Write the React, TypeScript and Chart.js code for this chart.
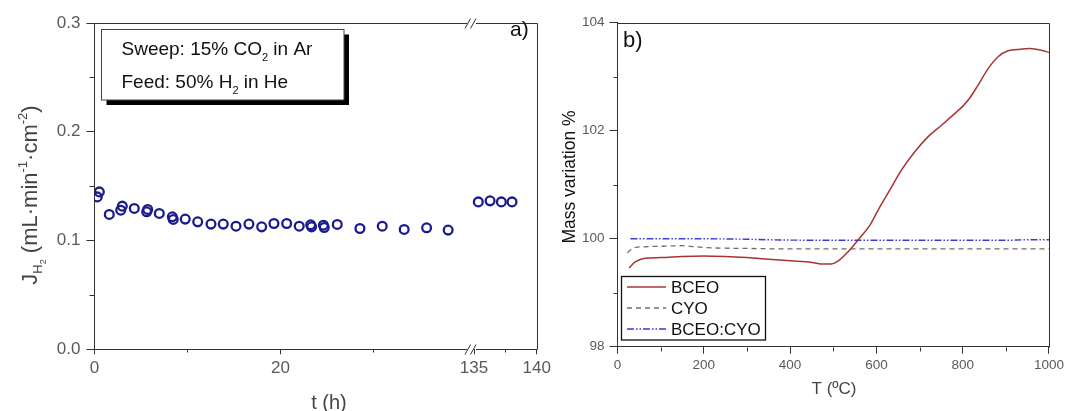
import React, { useEffect, useRef } from 'react';
import { Chart, registerables } from 'chart.js';
Chart.register(...registerables);

// ---------- Panel a) : H2 flux vs time (broken x axis) ----------
const timeHours = [0.30, 0.52, 1.59, 2.82, 2.99, 4.28, 5.61, 5.72, 6.97, 8.37, 8.47, 9.76, 11.10, 12.53, 13.85, 15.22, 16.61, 17.98, 19.30, 20.67, 22.02, 23.25, 23.35, 24.62, 24.71, 26.11, 28.55, 30.95, 33.31, 35.72, 38.04, 135.34, 136.28, 137.18, 138.03];
const fluxH2 = [0.1401, 0.1447, 0.1240, 0.1279, 0.1316, 0.1295, 0.1264, 0.1286, 0.1249, 0.1218, 0.1194, 0.1197, 0.1172, 0.1151, 0.1151, 0.1132, 0.1151, 0.1126, 0.1157, 0.1157, 0.1132, 0.1144, 0.1126, 0.1141, 0.1120, 0.1148, 0.1111, 0.1132, 0.1102, 0.1117, 0.1096, 0.1355, 0.1365, 0.1355, 0.1355];
const leftXMajor = [0, 20, 135, 140];
const leftXMinor = [10, 30, 137.5];
const leftYMajor = [0, 0.1, 0.2, 0.3];
const leftYMinor = [0.05, 0.15, 0.25];

// axis break: 0..40.5 h, then 134.76..140 h (stretched)
const SEG1_MAX = 40.5;
const SEG2_MIN = 134.76;
const SEG2_STRETCH = 1.348;
const toAxis = (t: number) => (t <= SEG1_MAX ? t : SEG1_MAX + (t - SEG2_MIN) * SEG2_STRETCH);

// ---------- Panel b) : TGA mass variation ----------
const bceoT = [27, 41, 64, 100, 149, 199, 249, 299, 350, 400, 450, 478, 495, 510, 531, 558, 585, 604, 631, 658, 689, 720, 751, 782, 801, 816, 836, 859, 882, 905, 936, 955, 982, 1000];
const bceoMass = [99.46, 99.57, 99.64, 99.65, 99.67, 99.68, 99.67, 99.65, 99.62, 99.59, 99.56, 99.53, 99.53, 99.58, 99.73, 99.98, 100.25, 100.53, 100.90, 101.27, 101.61, 101.89, 102.10, 102.32, 102.46, 102.60, 102.85, 103.15, 103.37, 103.48, 103.51, 103.52, 103.49, 103.45];
const cyoT = [23, 37, 60, 100, 150, 180, 220, 300, 400, 500, 600, 700, 800, 900, 1000];
const cyoMass = [99.74, 99.83, 99.85, 99.86, 99.87, 99.85, 99.83, 99.82, 99.81, 99.81, 99.81, 99.81, 99.81, 99.81, 99.81];
const mixT = [30, 150, 300, 350, 500, 700, 900, 950, 1000];
const mixMass = [100.0, 100.0, 99.99, 99.98, 99.97, 99.97, 99.97, 99.98, 99.98];
const rightXMajor = [0, 200, 400, 600, 800, 1000];
const rightXMinor = [100, 300, 500, 700, 900];
const rightYMajor = [98, 100, 102, 104];
const rightYMinor = [99, 101, 103];
const seriesNames = ['BCEO', 'CYO', 'BCEO:CYO'];

const FONT = '"Liberation Sans", Arial, sans-serif';
const AXIS = '#333333';
const TICK = '#5a5a5a';
const NAVY = '#1b1b8f';
const RED = '#a83434';
const GRAY = '#6e6e6e';
const BLUE = '#3a3ad0';
const dashCYO = [5, 4];
const dashMix = [7, 2, 1.5, 2, 1.5, 2];

type Part = { text: string; size: number; dy: number };
function drawRich(ctx: CanvasRenderingContext2D, parts: Part[], x: number, y: number) {
  let cx = x;
  for (const p of parts) {
    ctx.font = `${p.size}px ${FONT}`;
    ctx.fillText(p.text, cx, y + p.dy);
    cx += ctx.measureText(p.text).width;
  }
  return cx;
}
function richWidth(ctx: CanvasRenderingContext2D, parts: Part[]) {
  let w = 0;
  for (const p of parts) {
    ctx.font = `${p.size}px ${FONT}`;
    w += ctx.measureText(p.text).width;
  }
  return w;
}
function line(ctx: CanvasRenderingContext2D, x1: number, y1: number, x2: number, y2: number) {
  ctx.beginPath();
  ctx.moveTo(x1, y1);
  ctx.lineTo(x2, y2);
  ctx.stroke();
}

const leftDecor = {
  id: 'leftDecor',
  afterDraw(chart: any) {
    const { ctx, chartArea: a, scales } = chart;
    const xs = scales.x, ys = scales.y;
    ctx.save();
    ctx.strokeStyle = AXIS;
    ctx.lineWidth = 1;
    const top = Math.round(a.top) + 0.5;
    const bot = Math.round(a.bottom) + 0.5;
    const right = Math.round(a.right) + 0.5;
    const bx = xs.getPixelForValue(SEG1_MAX);
    for (const yy of [top, bot]) {
      line(ctx, a.left, yy, bx - 4, yy);
      line(ctx, bx + 5, yy, right, yy);
      line(ctx, bx - 6, yy + 5, bx - 0.5, yy - 5);
      line(ctx, bx - 0.5, yy + 5, bx + 5, yy - 5);
    }
    line(ctx, right, top, right, bot);
    // minor ticks
    for (const v of leftXMinor) {
      const px = Math.round(xs.getPixelForValue(toAxis(v))) + 0.5;
      line(ctx, px, bot, px, bot + 3);
    }
    for (const v of leftYMinor) {
      const py = Math.round(ys.getPixelForValue(v)) + 0.5;
      line(ctx, a.left - 5, py, a.left, py);
    }
    // annotation box with shadow
    const bx0 = 101.5, by0 = 29.5, bw = 242.5, bh = 70.5;
    ctx.fillStyle = '#000';
    ctx.fillRect(bx0 + 5, by0 + 5, bw, bh);
    ctx.fillStyle = '#fff';
    ctx.fillRect(bx0, by0, bw, bh);
    ctx.strokeStyle = '#444';
    ctx.strokeRect(bx0, by0, bw, bh);
    ctx.fillStyle = '#111';
    ctx.textBaseline = 'alphabetic';
    ctx.textAlign = 'left';
    drawRich(ctx, [
      { text: 'Sweep: 15% CO', size: 19, dy: 0 },
      { text: '2', size: 11, dy: 6 },
      { text: ' in Ar', size: 19, dy: 0 },
    ], 121.5, 55);
    drawRich(ctx, [
      { text: 'Feed: 50% H', size: 19, dy: 0 },
      { text: '2', size: 11, dy: 6 },
      { text: ' in He', size: 19, dy: 0 },
    ], 121.5, 88);
    // panel label
    ctx.font = `21px ${FONT}`;
    ctx.fillText('a)', 510, 36);
    // x title
    ctx.fillStyle = '#444';
    ctx.textAlign = 'center';
    ctx.textBaseline = 'middle';
    ctx.font = `20px ${FONT}`;
    ctx.fillText('t (h)', 329, 403);
    // y title (rotated, with sub/superscripts)
    ctx.textAlign = 'left';
    ctx.textBaseline = 'alphabetic';
    const parts: Part[] = [
      { text: 'J', size: 22, dy: 0 },
      { text: 'H', size: 13, dy: 5 },
      { text: '2', size: 9, dy: 9 },
      { text: ' (mL·min', size: 22, dy: 0 },
      { text: '-1', size: 13, dy: -10 },
      { text: '·cm', size: 22, dy: 0 },
      { text: '-2', size: 13, dy: -10 },
      { text: ')', size: 22, dy: 0 },
    ];
    const w = richWidth(ctx, parts);
    ctx.translate(37, 195 + w / 2);
    ctx.rotate(-Math.PI / 2);
    drawRich(ctx, parts, 0, 0);
    ctx.restore();
  },
};

const rightDecor = {
  id: 'rightDecor',
  afterDraw(chart: any) {
    const { ctx, chartArea: a, scales } = chart;
    const xs = scales.x, ys = scales.y;
    ctx.save();
    ctx.strokeStyle = AXIS;
    ctx.lineWidth = 1;
    const top = Math.round(a.top) + 0.5;
    const bot = Math.round(a.bottom) + 0.5;
    const right = Math.round(a.right) + 0.5;
    line(ctx, a.left, top, right, top);
    line(ctx, right, top, right, bot);
    for (const v of rightXMinor) {
      const px = Math.round(xs.getPixelForValue(v)) + 0.5;
      line(ctx, px, bot, px, bot + 4);
    }
    for (const v of rightYMinor) {
      const py = Math.round(ys.getPixelForValue(v)) + 0.5;
      line(ctx, a.left - 4, py, a.left, py);
    }
    // legend box
    const lx = 81.5, ly = 276.5, lw = 144, lh = 63.5;
    ctx.fillStyle = '#fff';
    ctx.fillRect(lx, ly, lw, lh);
    ctx.strokeStyle = '#111';
    ctx.lineWidth = 1.3;
    ctx.strokeRect(lx, ly, lw, lh);
    const styles = [
      { color: RED, dash: [] as number[] },
      { color: GRAY, dash: dashCYO },
      { color: BLUE, dash: dashMix },
    ];
    const rows = [287, 308, 329];
    ctx.font = `17px ${FONT}`;
    ctx.textBaseline = 'middle';
    ctx.textAlign = 'left';
    seriesNames.forEach((name, i) => {
      ctx.strokeStyle = styles[i].color;
      ctx.lineWidth = 1.4;
      ctx.setLineDash(styles[i].dash);
      line(ctx, 87, rows[i], 126, rows[i]);
      ctx.setLineDash([]);
      ctx.fillStyle = '#111';
      ctx.fillText(name, 131, rows[i] + 1);
    });
    // panel label
    ctx.textBaseline = 'alphabetic';
    ctx.font = `22px ${FONT}`;
    ctx.fillStyle = '#111';
    ctx.fillText('b)', 83, 47);
    // x title
    ctx.fillStyle = '#444';
    ctx.textAlign = 'center';
    ctx.textBaseline = 'middle';
    ctx.font = `17px ${FONT}`;
    ctx.fillText('T (ºC)', 294, 389);
    // y title
    ctx.translate(30, 177);
    ctx.rotate(-Math.PI / 2);
    ctx.fillStyle = '#111';
    ctx.font = `17.5px ${FONT}`;
    ctx.fillText('Mass variation %', 0, 0);
    ctx.restore();
  },
};

function LeftChart() {
  const ref = useRef<HTMLCanvasElement>(null);
  useEffect(() => {
    const points = timeHours.map((t, i) => ({ x: toAxis(t), y: fluxH2[i] }));
    const chart = new Chart(ref.current as HTMLCanvasElement, {
      type: 'scatter',
      data: {
        datasets: [{
          data: points,
          showLine: false,
          pointStyle: 'circle',
          pointRadius: 4.4,
          pointHoverRadius: 4.4,
          pointBorderWidth: 2.3,
          pointBackgroundColor: 'rgba(0,0,0,0)',
          pointBorderColor: NAVY,
        }],
      },
      options: {
        animation: false,
        responsive: false,
        devicePixelRatio: 1,
        events: [],
        layout: { padding: { left: 0, top: 23, right: 23.3, bottom: 0 } },
        plugins: { legend: { display: false }, tooltip: { enabled: false } },
        scales: {
          x: {
            type: 'linear',
            min: 0,
            max: toAxis(140),
            afterBuildTicks: (s: any) => { s.ticks = leftXMajor.map((v) => ({ value: toAxis(v) })); },
            afterFit: (s: any) => { s.height = 61.7; },
            ticks: {
              autoSkip: false, maxRotation: 0, padding: 4, color: TICK,
              font: { family: FONT, size: 17 },
              callback: (_v: any, i: number) => String(leftXMajor[i]),
            },
            grid: { display: true, drawOnChartArea: false, drawTicks: true, tickLength: 5, color: AXIS },
            border: { display: false },
          },
          y: {
            type: 'linear',
            min: 0,
            max: 0.3,
            afterBuildTicks: (s: any) => { s.ticks = leftYMajor.map((v) => ({ value: v })); },
            afterFit: (s: any) => { s.width = 94.5; },
            ticks: {
              autoSkip: false, padding: 6, color: TICK,
              font: { family: FONT, size: 17 },
              callback: (v: any) => Number(v).toFixed(1),
            },
            grid: { display: true, drawOnChartArea: false, drawTicks: true, tickLength: 8, color: AXIS },
            border: { display: true, color: AXIS, width: 1 },
          },
        },
      },
      plugins: [leftDecor],
    } as any);
    return () => chart.destroy();
  }, []);
  return <canvas ref={ref} width={560} height={411} style={{ position: 'absolute', left: 0, top: 0, width: 560, height: 411 }} />;
}

function RightChart() {
  const ref = useRef<HTMLCanvasElement>(null);
  useEffect(() => {
    const mk = (xs: number[], ys: number[]) => xs.map((x, i) => ({ x, y: ys[i] }));
    const chart = new Chart(ref.current as HTMLCanvasElement, {
      type: 'line',
      data: {
        datasets: [
          { label: seriesNames[0], data: mk(bceoT, bceoMass), borderColor: RED, borderWidth: 1.5, pointRadius: 0, cubicInterpolationMode: 'monotone', fill: false },
          { label: seriesNames[1], data: mk(cyoT, cyoMass), borderColor: GRAY, borderWidth: 1.3, borderDash: dashCYO, pointRadius: 0, cubicInterpolationMode: 'monotone', fill: false },
          { label: seriesNames[2], data: mk(mixT, mixMass), borderColor: BLUE, borderWidth: 1.4, borderDash: dashMix, pointRadius: 0, cubicInterpolationMode: 'monotone', fill: false },
        ],
      },
      options: {
        animation: false,
        responsive: false,
        devicePixelRatio: 1,
        events: [],
        layout: { padding: { left: 0, top: 22.7, right: 15.5, bottom: 0 } },
        plugins: { legend: { display: false }, tooltip: { enabled: false } },
        scales: {
          x: {
            type: 'linear',
            min: 0,
            max: 1000,
            afterBuildTicks: (s: any) => { s.ticks = rightXMajor.map((v) => ({ value: v })); },
            afterFit: (s: any) => { s.height = 64.3; },
            ticks: {
              autoSkip: false, maxRotation: 0, padding: 3, color: TICK,
              font: { family: FONT, size: 13.5 },
              callback: (_v: any, i: number) => String(rightXMajor[i]),
            },
            grid: { display: true, drawOnChartArea: false, drawTicks: true, tickLength: 7, color: AXIS },
            border: { display: true, color: AXIS, width: 1 },
          },
          y: {
            type: 'linear',
            min: 98,
            max: 104,
            afterBuildTicks: (s: any) => { s.ticks = rightYMajor.map((v) => ({ value: v })); },
            afterFit: (s: any) => { s.width = 77.5; },
            ticks: {
              autoSkip: false, padding: 5, color: TICK,
              font: { family: FONT, size: 13.5 },
              callback: (v: any) => String(v),
            },
            grid: { display: true, drawOnChartArea: false, drawTicks: true, tickLength: 8, color: AXIS },
            border: { display: true, color: AXIS, width: 1 },
          },
        },
      },
      plugins: [rightDecor],
    } as any);
    return () => chart.destroy();
  }, []);
  return <canvas ref={ref} width={527} height={411} style={{ position: 'absolute', left: 540, top: 0, width: 527, height: 411 }} />;
}

export default function App() {
  return (
    <div style={{ position: 'absolute', left: 0, top: 0, width: 1067, height: 411, background: '#fff', overflow: 'hidden' }}>
      <LeftChart />
      <RightChart />
    </div>
  );
}
